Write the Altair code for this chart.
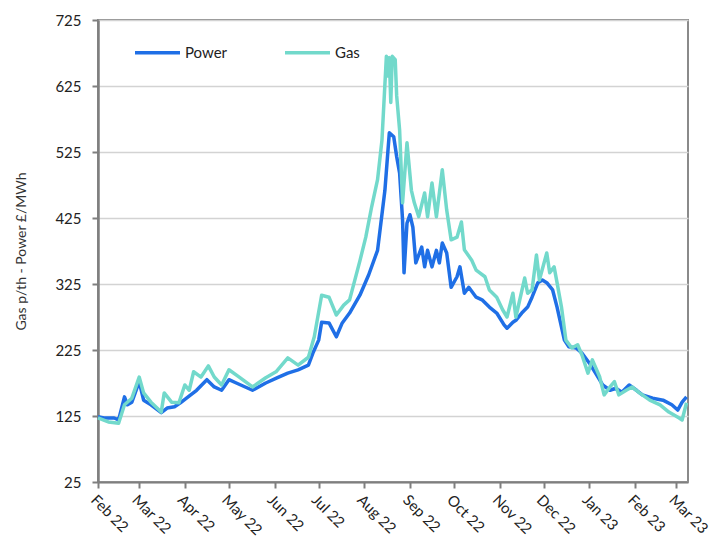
import altair as alt
import pandas as pd

power_dates = [
    "2022-02-01", "2022-02-05", "2022-02-12", "2022-02-15", "2022-02-19", "2022-02-21", "2022-02-24",
    "2022-03-01", "2022-03-04", "2022-03-09", "2022-03-16", "2022-03-20", "2022-03-25", "2022-03-29",
    "2022-04-05", "2022-04-09", "2022-04-16", "2022-04-21", "2022-04-26", "2022-05-01", "2022-05-06",
    "2022-05-17", "2022-05-26", "2022-06-03", "2022-06-10", "2022-06-17", "2022-06-24", "2022-06-27",
    "2022-07-01", "2022-07-03", "2022-07-08", "2022-07-13", "2022-07-17", "2022-07-22", "2022-07-29",
    "2022-08-04", "2022-08-10", "2022-08-15", "2022-08-18", "2022-08-21", "2022-08-23", "2022-08-25",
    "2022-08-27", "2022-08-28", "2022-08-30", "2022-09-01", "2022-09-03", "2022-09-05", "2022-09-09",
    "2022-09-11", "2022-09-13", "2022-09-16", "2022-09-19", "2022-09-21", "2022-09-23", "2022-09-26",
    "2022-09-29", "2022-10-03", "2022-10-05", "2022-10-08", "2022-10-11", "2022-10-16", "2022-10-20",
    "2022-10-25", "2022-10-30", "2022-11-04", "2022-11-06", "2022-11-10", "2022-11-12", "2022-11-16",
    "2022-11-20", "2022-11-23", "2022-11-27", "2022-11-30", "2022-12-03", "2022-12-07", "2022-12-10",
    "2022-12-12", "2022-12-15", "2022-12-18", "2022-12-23", "2022-12-27", "2023-01-01", "2023-01-06",
    "2023-01-10", "2023-01-15", "2023-01-19", "2023-01-23", "2023-01-28", "2023-02-02", "2023-02-06",
    "2023-02-13", "2023-02-20", "2023-02-26", "2023-03-02", "2023-03-05", "2023-03-08",
]
power_values = [
    124, 122, 122, 119, 154, 142, 146,
    177, 149, 142, 130, 137, 139, 145,
    157, 164, 180, 169, 164, 180, 175,
    164, 175, 183, 190, 195, 202, 220,
    240, 267, 266, 245, 266, 281, 308,
    339, 376, 467, 554, 548, 518, 493,
    422, 342, 417, 430, 411, 357, 381,
    351, 376, 351, 376, 357, 387, 372,
    320, 336, 351, 311, 320, 305, 301,
    290, 281, 263, 258, 267, 270, 281,
    290, 305, 327, 331, 327, 316, 290,
    270, 240, 230, 228, 220, 205, 187,
    172, 164, 167, 161, 172, 164, 157,
    152, 149, 142, 134, 146, 154,
]

gas_dates = [
    "2022-02-01", "2022-02-08", "2022-02-15", "2022-02-19", "2022-02-24", "2022-03-01", "2022-03-04",
    "2022-03-09", "2022-03-16", "2022-03-18", "2022-03-23", "2022-03-28", "2022-04-01", "2022-04-04",
    "2022-04-07", "2022-04-12", "2022-04-17", "2022-04-21", "2022-04-26", "2022-05-01", "2022-05-08",
    "2022-05-17", "2022-05-26", "2022-06-02", "2022-06-10", "2022-06-17", "2022-06-24", "2022-06-28",
    "2022-07-03", "2022-07-08", "2022-07-13", "2022-07-18", "2022-07-22", "2022-07-29", "2022-08-02",
    "2022-08-06", "2022-08-10", "2022-08-13", "2022-08-16", "2022-08-17", "2022-08-18", "2022-08-19",
    "2022-08-20", "2022-08-22", "2022-08-23", "2022-08-25", "2022-08-27", "2022-08-30", "2022-09-02",
    "2022-09-04", "2022-09-07",
    "2022-09-11", "2022-09-13", "2022-09-16", "2022-09-19", "2022-09-23", "2022-09-26", "2022-09-29",
    "2022-10-03", "2022-10-06", "2022-10-08", "2022-10-13", "2022-10-16", "2022-10-22", "2022-10-25",
    "2022-10-30", "2022-11-03", "2022-11-06", "2022-11-10", "2022-11-12", "2022-11-18", "2022-11-20",
    "2022-11-23", "2022-11-26", "2022-11-28", "2022-12-03", "2022-12-05", "2022-12-08", "2022-12-10",
    "2022-12-13", "2022-12-16", "2022-12-20", "2022-12-24", "2022-12-27", "2022-12-31", "2023-01-03",
    "2023-01-08", "2023-01-11", "2023-01-15", "2023-01-18", "2023-01-21", "2023-01-26", "2023-01-30",
    "2023-02-04", "2023-02-11", "2023-02-18", "2023-02-24", "2023-03-03", "2023-03-05", "2023-03-08",
]
gas_values = [
    122, 116, 114, 142, 152, 184, 160,
    146, 131, 160, 146, 145, 172, 164,
    192, 184, 201, 184, 172, 195, 184,
    169, 183, 192, 213, 202, 214, 245,
    308, 305, 278, 293, 301, 360, 396,
    442, 483, 543, 670, 640, 668, 600,
    670, 665, 610, 558, 448, 539, 467,
    448, 427,
    463, 427, 478, 427, 498, 437, 392,
    396, 419, 377, 361, 346, 336, 316,
    305, 286, 275, 311, 275, 334, 311,
    316, 369, 331, 372, 342, 351, 327,
    290, 240, 228, 233, 217, 190, 210,
    184, 157, 169, 177, 157, 164, 169,
    160, 149, 142, 131, 122, 119, 145,
]

y_ticks = [25, 125, 225, 325, 425, 525, 625, 725]
series_names = ["Power", "Gas"]
series_colors = ["#1F6FE6", "#72D9CB"]

df = pd.concat([
    pd.DataFrame({"date": [d + "T00:00:00" for d in power_dates], "value": power_values, "series": "Power"}),
    pd.DataFrame({"date": [d + "T00:00:00" for d in gas_dates], "value": gas_values, "series": "Gas"}),
])

FONT = "Lato"

chart = alt.Chart(df).mark_line(strokeWidth=3.5, interpolate="linear", strokeJoin="round").encode(
    x=alt.X(
        "date:T",
        scale=alt.Scale(domain=[alt.DateTime(year=2022, month=2, date=1),
                                alt.DateTime(year=2023, month=3, date=9)]),
        axis=alt.Axis(
            title=None,
            format="%b %y",
            tickCount={"interval": "month", "step": 1},
            labelAngle=45,
            labelAlign="left",
            labelBaseline="top",
            labelFontSize=15,
            labelFont=FONT,
            labelColor="#222222",
            labelPadding=4,
            labelOverlap=False,
            grid=False,
            domainColor="#7f7f7f",
            domainWidth=2,
            tickColor="#7f7f7f",
            tickWidth=2,
            tickSize=6,
        ),
    ),
    y=alt.Y(
        "value:Q",
        scale=alt.Scale(domain=[25, 725], nice=False, zero=False),
        axis=alt.Axis(
            title="Gas p/th - Power £/MWh",
            titleFont=FONT,
            titleFontSize=14,
            titleFontWeight="normal",
            titleColor="#333333",
            titlePadding=26,
            values=y_ticks,
            labelFontSize=15,
            labelFont=FONT,
            labelColor="#222222",
            labelPadding=11,
            gridColor="#d3d3d3",
            gridWidth=1.5,
            domainColor="#7f7f7f",
            domainWidth=2.5,
            tickColor="#7f7f7f",
            tickWidth=2,
            tickSize=6,
        ),
    ),
    color=alt.Color(
        "series:N",
        scale=alt.Scale(domain=series_names, range=series_colors),
        sort=series_names,
        legend=alt.Legend(
            title=None,
            orient="none",
            legendX=35,
            legendY=8,
            direction="horizontal",
            symbolType="stroke",
            symbolSize=2025,
            symbolStrokeWidth=3.5,
            labelFont=FONT,
            labelFontSize=15,
            labelColor="#222222",
            labelOffset=3,
            columnPadding=50,
        ),
    ),
    order=alt.Order("series:N", sort="descending"),
).properties(
    width=590,
    height=462,
    autosize=alt.AutoSizeParams(type="none"),
    padding={"left": 90, "top": 12, "right": 30, "bottom": 55},
).configure_view(
    stroke="#8a8a8a",
    strokeWidth=2,
)

chart.save("out.html", embed_options={"renderer": "svg", "actions": False})
